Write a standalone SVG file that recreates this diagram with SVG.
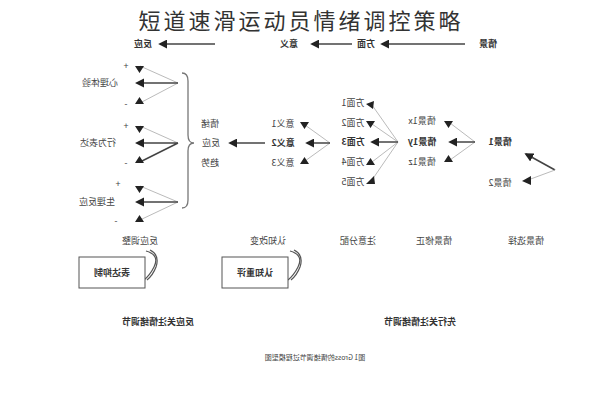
<svg xmlns="http://www.w3.org/2000/svg" width="600" height="400" viewBox="0 0 600 400">
<style>
text{font-family:"Noto Sans CJK SC","Liberation Sans",sans-serif;fill:#444;font-size:9px;text-anchor:middle}
.t{font-size:22px;letter-spacing:3px}
.b{font-weight:bold;fill:#333}
.lt{stroke:#bbb;stroke-width:1;fill:none}
.dk{stroke:#444;stroke-width:1.5;fill:none}
</style>
<defs>
<marker id="a" viewBox="0 0 10 10" refX="8" refY="5" markerWidth="9" markerHeight="9" orient="auto" markerUnits="userSpaceOnUse"><path d="M10,5L0,0L0,10Z" fill="#222"/></marker>
</defs>
<rect width="600" height="400" fill="#fff"/>
<text class="t" x="301" y="29" style="fill:#333">短道速滑运动员情绪调控策略</text>
<g id="connectors">
<path class="dk" d="M215,44H160" marker-end="url(#a)"/>
<path class="dk" d="M352,44H312" marker-end="url(#a)"/>
<path class="dk" d="M465,44H382" marker-end="url(#a)"/>
<path class="lt" d="M178,83L140,66M178,83L140,103"/><path class="dk" d="M178,83H140"/>
<path class="lt" d="M178,143L140,126"/><path class="dk" d="M178,143H140M178,143L140,162"/>
<path class="lt" d="M178,202L140,186M178,202L140,220"/><path class="dk" d="M178,202H140"/>
<path d="M135,66l9,0l-4.5,7z M135,143 l9,-4.5v9z M135,83l9,-4.5v9z M135,104l4.5,-7l4.5,7z M135,126l9,0l-4.5,7z M135,163l4.5,-7l4.5,7z M135,186l9,0l-4.5,7z M135,202l9,-4.5v9z M135,222l4.5,-7l4.5,7z" fill="#222"/>
<path d="M182,73q6,0 6,8v54q0,8 6,8q-6,0 -6,8v49q0,8 -6,8" stroke="#777" stroke-width="1.3" fill="none"/>
<path class="dk" d="M265,143H230" marker-end="url(#a)"/>
<path class="lt" d="M330,143L305,125M330,143L305,161"/><path class="dk" d="M330,143H307" marker-end="url(#a)"/>
<path d="M300,122l9,0l-4.5,7z M300,164l4.5,-7l4.5,7z" fill="#222"/>
<path class="lt" d="M398,142L372,105M398,142L372,124M398,142L372,162M398,142L372,180"/><path class="dk" d="M398,142H372" marker-end="url(#a)"/>
<path d="M366,104l8,-3l-1,8z M366,121l9,0l-4.5,7z M366,165l4.5,-7l4.5,7z M366,184l8,-8l1,8z" fill="#222"/>
<path class="lt" d="M475,142L450,123M475,142L450,160"/><path class="dk" d="M475,142H450" marker-end="url(#a)"/>
<path d="M444,121l9,0l-4.5,7z M444,162l4.5,-7l4.5,7z" fill="#222"/>
<path class="dk" d="M555,170L526,154" marker-end="url(#a)"/>
<path class="lt" d="M555,170L528,180"/><path d="M522,181l9,-5v9z" fill="#222"/>
<path d="M146,251q14,4 8,16q-4,8 -10,13" stroke="#555" stroke-width="1.2" fill="none"/>
<path d="M150,250q10,5 6,17q-3,8 -9,13" stroke="#555" stroke-width="1.2" fill="none"/>
<path d="M290,251q14,4 8,16q-4,8 -10,13" stroke="#555" stroke-width="1.2" fill="none"/>
<path d="M294,250q10,5 6,17q-3,8 -9,13" stroke="#555" stroke-width="1.2" fill="none"/>
</g>
<g id="top-labels">
<text class="b" transform="translate(143,47) scale(-1,1)">反应</text>
<text class="b" transform="translate(289,47) scale(-1,1)">意义</text>
<text class="b" transform="translate(366,47) scale(-1,1)">方面</text>
<text class="b" transform="translate(488,47) scale(-1,1)">情景</text>
</g>
<g id="response-nodes">
<text transform="translate(126,69) scale(-1,1)">+</text>
<text transform="translate(100,86) scale(-1,1)">心理体验</text>
<text transform="translate(126,107) scale(-1,1)">-</text>
<text transform="translate(126,129) scale(-1,1)">+</text>
<text transform="translate(98,146) scale(-1,1)">行为表达</text>
<text transform="translate(126,166) scale(-1,1)">-</text>
<text transform="translate(118,187) scale(-1,1)">+</text>
<text transform="translate(97,205) scale(-1,1)">生理反应</text>
<text transform="translate(116,224) scale(-1,1)">-</text>
</g>
<g id="emotion-node">
<text transform="translate(210,127) scale(-1,1)">情绪</text>
<text transform="translate(211,146) scale(-1,1)">反应</text>
<text transform="translate(210,166) scale(-1,1)">趋势</text>
</g>
<g id="meaning-nodes">
<text transform="translate(283,127) scale(-1,1)">意义1</text>
<text class="b" transform="translate(283,146) scale(-1,1)">意义2</text>
<text transform="translate(283,166) scale(-1,1)">意义3</text>
</g>
<g id="aspect-nodes">
<text transform="translate(353,106) scale(-1,1)">方面1</text>
<text transform="translate(353,126) scale(-1,1)">方面2</text>
<text class="b" transform="translate(353,145) scale(-1,1)">方面3</text>
<text transform="translate(353,165) scale(-1,1)">方面4</text>
<text transform="translate(353,185) scale(-1,1)">方面5</text>
</g>
<g id="situation-nodes">
<text transform="translate(422,124) scale(-1,1)">情景1x</text>
<text class="b" transform="translate(422,145) scale(-1,1)">情景1y</text>
<text transform="translate(422,165) scale(-1,1)">情景1z</text>
<text class="b" transform="translate(500,145) scale(-1,1)">情景1</text>
<text transform="translate(500,186) scale(-1,1)">情景2</text>
</g>
<g id="stage-labels">
<text transform="translate(140,244) scale(-1,1)">反应调整</text>
<text transform="translate(268,244) scale(-1,1)">认知改变</text>
<text transform="translate(358,244) scale(-1,1)">注意分配</text>
<text transform="translate(434,244) scale(-1,1)">情景修正</text>
<text transform="translate(526,244) scale(-1,1)">情景选择</text>
</g>
<g id="box-suppression">
<rect x="79" y="257" width="66" height="31" fill="#fff" stroke="#555"/>
<text class="b" transform="translate(112,276) scale(-1,1)">表达抑制</text>
</g>
<g id="box-reappraisal">
<rect x="222" y="257" width="66" height="31" fill="#fff" stroke="#555"/>
<text class="b" transform="translate(255,276) scale(-1,1)">认知重评</text>
</g>
<g id="bottom-labels">
<text class="b" transform="translate(158,325) scale(-1,1)">反应关注情绪调节</text>
<text class="b" transform="translate(420,325) scale(-1,1)">先行关注情绪调节</text>
<text style="font-size:7px" transform="translate(315,360) scale(-1,1)">图1 Gross的情绪调节过程模型图</text>
</g>
</svg>
